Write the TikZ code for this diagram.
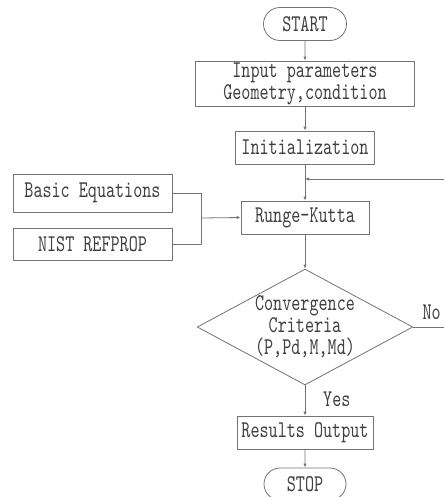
\documentclass[tikz,border=0pt]{standalone}
\usepackage{fontspec}
\setmainfont[FakeStretch=0.72]{lmmono10-regular.otf}
\usetikzlibrary{shapes.geometric,shapes.misc,arrows.meta}
\begin{document}
\begin{tikzpicture}[x=0.75pt, y=-0.75pt, line join=round, >={Latex[length=3pt,width=2.5pt]},
	font=\fontsize{18}{16.5}\selectfont, text=black!75,
	box/.style={draw=black!55, line width=0.6pt, inner sep=0pt, align=center},
	term/.style={box, rounded rectangle},
	cond/.style={box, diamond, aspect=1.86},
	flow/.style={draw=black!55, line width=0.6pt}]
	\useasboundingbox (0,0) rectangle (444,497);
	% Nodes
	\node[term, minimum width=62.25pt, minimum height=24.75pt] (start) at (305,24) {START};
	\node[box, minimum width=164.25pt, minimum height=33.75pt] (input) at (305,83.5) {Input parameters\\Geometry,condition};
	\node[box, minimum width=104.25pt, minimum height=24.75pt] (init) at (305,147.5) {Initialization};
	\node[box, minimum width=96pt, minimum height=24.75pt] (rk) at (305,217.5) {Runge-Kutta};
	\node[box, minimum width=119.25pt, minimum height=28.5pt] (basic) at (92.5,193) {Basic Equations};
	\node[box, minimum width=119.25pt, minimum height=24pt] (nist) at (92.5,244) {NIST REFPROP};
	\node[cond, minimum width=159pt, minimum height=85.5pt] (conv) at (305,327) {Convergence\\Criteria\\(P,Pd,M,Md)};
	\node[box, minimum width=102pt, minimum height=24.75pt] (res) at (305,432.5) {Results Output};
	\node[term, minimum width=61.5pt, minimum height=24pt] (stop) at (305,484) {STOP};
	\coordinate (join) at (201,218);
	\coordinate (back) at (444,179);
	\coordinate (noend) at (444,327);
	% Connectors
	\draw[flow, ->] (start) -- (input);
	\draw[flow, ->] (input) -- (init);
	\draw[flow, ->] (init) -- (rk);
	\draw[flow, ->] (back) -- (back -| rk.north);
	\draw[flow] (basic.east) -| (join);
	\draw[flow] (nist.east) -| (join);
	\draw[flow, ->] (join) -- (rk.west);
	\draw[flow, ->] (rk) -- (conv);
	\draw[flow, ->] (conv) -- node[right=10pt, pos=0.45] {Yes} (res);
	\draw[flow] (conv.east) -- node[above=2pt, pos=0.6] {No} (noend);
	\draw[flow, ->] (res) -- (stop);
\end{tikzpicture}
\end{document}
